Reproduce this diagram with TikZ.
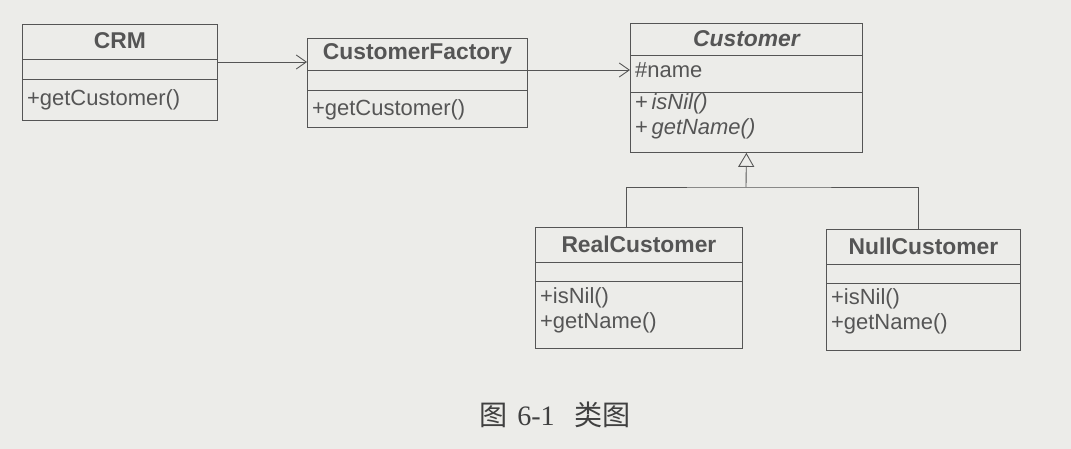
\documentclass[tikz,border=0pt]{standalone}
\usepackage{fontspec}
\setmainfont{Liberation Sans}
\newfontfamily\capfont{Liberation Serif}
\newfontfamily\cjk{Noto Sans CJK SC}
\usetikzlibrary{arrows.meta,calc}
\definecolor{paper}{RGB}{236,236,233}
\definecolor{ink}{RGB}{85,85,85}
\tikzset{
  classbox/.style={draw=ink,line width=0.5pt,rectangle,anchor=north west,inner sep=0pt},
  rule/.style={draw=ink,line width=0.5pt},
  cname/.style={font=\fontsize{13}{15}\selectfont\bfseries,text=ink,inner sep=1pt},
  member/.style={font=\fontsize{12.5}{14.2}\selectfont,text=ink,align=left,anchor=west,inner sep=1pt},
  dep/.style={draw=ink,line width=0.5pt,-{Straight Barb[length=2mm,width=2.8mm]}},
  inherit/.style={draw=ink,line width=0.5pt,-{Triangle[open,length=2.8mm,width=3.2mm,fill=paper]}},
}

\begin{document}
\begin{tikzpicture}[x=0.02cm,y=-0.02cm]
	  \fill[paper] (0,0) rectangle (1071,449);
	  \useasboundingbox (0,0) rectangle (1071,449);
	  % CRM
	  \node[classbox,minimum width=3.9cm,minimum height=1.92cm] (crm) at (22,24) {};
	  \draw[rule] ($(crm.north west)+(0,35)$) -- ($(crm.north east)+(0,35)$);
	  \draw[rule] ($(crm.north west)+(0,55)$) -- ($(crm.north east)+(0,55)$);
	  \node[cname] (crmname) at ($(crm.north)+(0,17)$) {CRM};
	  \node[member] (crmops) at ($(crm.north west)+(3,76)$) {+getCustomer()};
	  % CustomerFactory
	  \node[classbox,minimum width=4.4cm,minimum height=1.78cm] (factory) at (307,38) {};
	  \draw[rule] ($(factory.north west)+(0,32)$) -- ($(factory.north east)+(0,32)$);
	  \draw[rule] ($(factory.north west)+(0,52)$) -- ($(factory.north east)+(0,52)$);
	  \node[cname] (factoryname) at ($(factory.north)+(0,16)$) {CustomerFactory};
	  \node[member] (factoryops) at ($(factory.north west)+(3,72)$) {+getCustomer()};
	  % Customer
	  \node[classbox,minimum width=4.64cm,minimum height=2.58cm] (customer) at (630,23) {};
	  \draw[rule] ($(customer.north west)+(0,32)$) -- ($(customer.north east)+(0,32)$);
	  \draw[rule] ($(customer.north west)+(0,69)$) -- ($(customer.north east)+(0,69)$);
	  \node[cname,font=\fontsize{13}{15}\selectfont\bfseries\itshape] (customername) at ($(customer.north)+(0,16)$) {Customer};
	  \node[member] (customerattr) at ($(customer.north west)+(3,47)$) {\#name};
	  \node[member] (customerops) at ($(customer.north west)+(3,93)$) {+\,\textit{isNil()}\\+\,\textit{getName()}};
	  % RealCustomer
	  \node[classbox,minimum width=4.14cm,minimum height=2.42cm] (real) at (535,227) {};
	  \draw[rule] ($(real.north west)+(0,35)$) -- ($(real.north east)+(0,35)$);
	  \draw[rule] ($(real.north west)+(0,54)$) -- ($(real.north east)+(0,54)$);
	  \node[cname] (realname) at ($(real.north)+(0,17)$) {RealCustomer};
	  \node[member] (realops) at ($(real.north west)+(3,83)$) {+isNil()\\+getName()};
	  % NullCustomer
	  \node[classbox,minimum width=3.88cm,minimum height=2.42cm] (null) at (826,229) {};
	  \draw[rule] ($(null.north west)+(0,35)$) -- ($(null.north east)+(0,35)$);
	  \draw[rule] ($(null.north west)+(0,54)$) -- ($(null.north east)+(0,54)$);
	  \node[cname] (nullname) at ($(null.north)+(0,17)$) {NullCustomer};
	  \node[member] (nullops) at ($(null.north west)+(3,82)$) {+isNil()\\+getName()};
	  % connectors
	  \coordinate (c1) at (217,62);
	  \draw[dep] (crm.east |- c1) -- (factory.west |- c1);
	  \draw[dep] (factory.east |- customerattr) -- (customer.west |- customerattr);
	  \coordinate (joint) at (746,187);
	  \draw[inherit] (joint) -- (customer.south);
	  \draw[rule] ([xshift=-0.25cm]real.north) |- (joint) -| ([xshift=-0.1cm]null.north);
	  % caption
	  \node[font=\capfont\fontsize{16}{18}\selectfont,text=black!75] (caption) at (555,415) {{\cjk 图}\hspace{0.35em}6-1\hspace{0.7em}{\cjk 类图}};
	\end{tikzpicture}
\end{document}
